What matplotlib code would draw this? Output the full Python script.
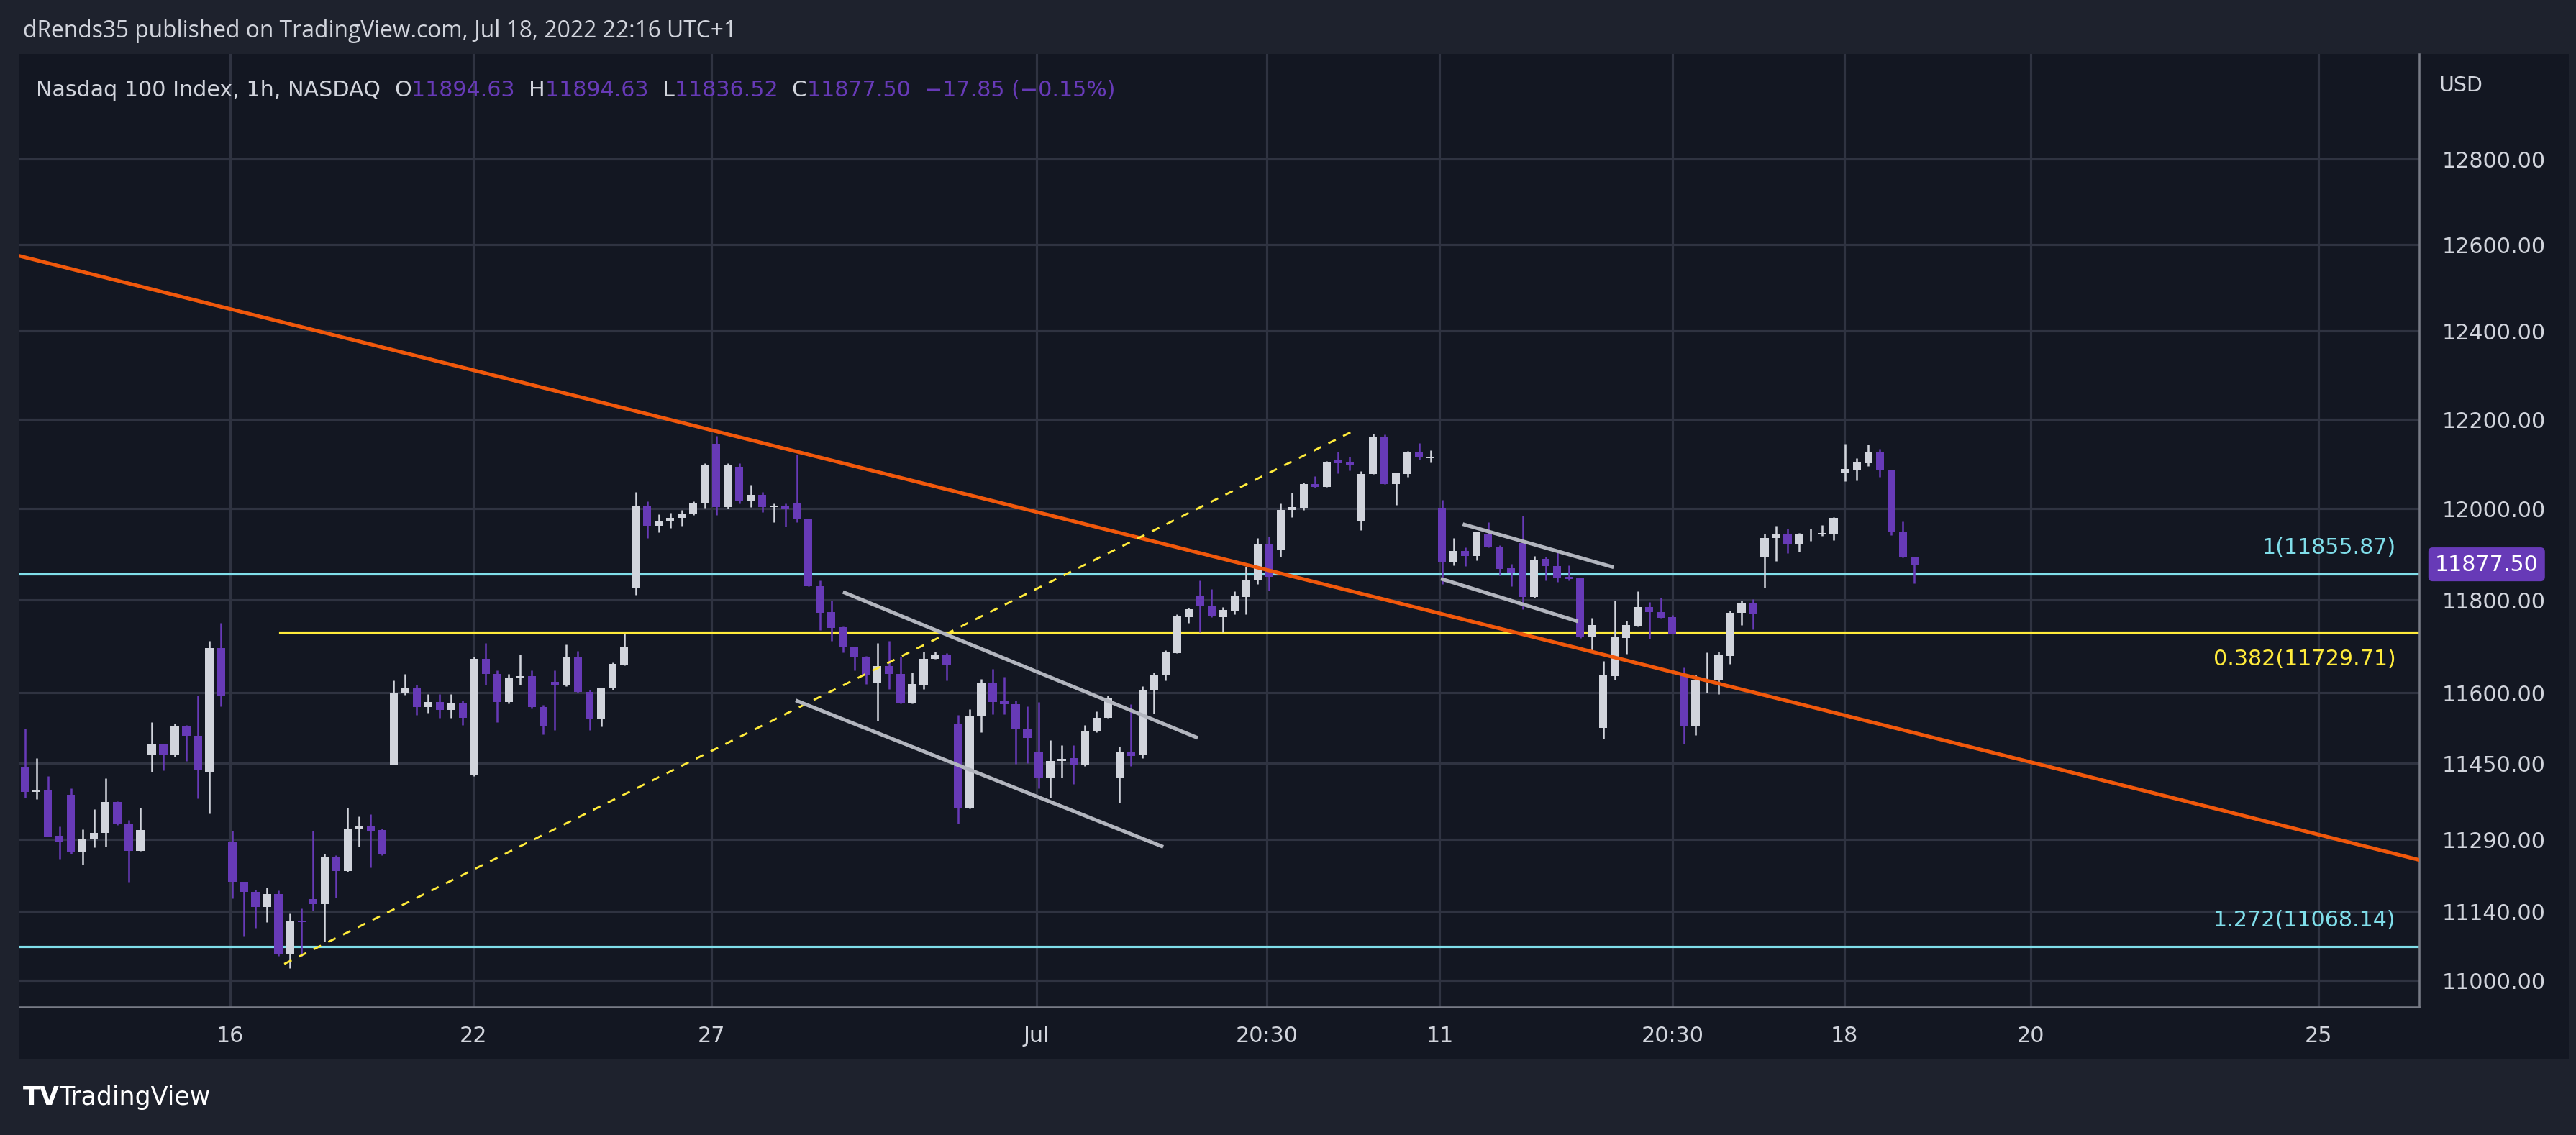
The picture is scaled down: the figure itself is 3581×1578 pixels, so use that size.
import matplotlib.pyplot as plt
import matplotlib.patches as mpatches
import numpy as np

# hourly candles (index = bar number)
opens = [11440, 11389, 11393, 11297, 11383, 11264, 11291, 11303, 11368, 11322, 11265,
         11466, 11489, 11466, 11527, 11507, 11432, 11695,
         11283, 11201, 11180, 11150, 11177, 11052, 11122, 11166, 11156, 11253, 11224, 11311, 11317, 11309,
         11446, 11599, 11611, 11568, 11580, 11562, 11578, 11426, 11672, 11640, 11580, 11631, 11635, 11568,
         11623, 11617, 11677, 11601, 11542, 11609, 11660,
         11825, 12005, 11962, 11974, 11980, 11987, 12011, 12144, 12003, 12094, 12016, 12031, 12004, 12007,
         12013, 11976, 11829, 11774, 11740, 11697, 11677, 11619, 11656, 11640, 11576, 11617, 11672, 11682,
         11532, 11356, 11549, 11621, 11582, 11575, 11521, 11472, 11419, 11454, 11460, 11446, 11517, 11546,
         11417, 11473, 11466, 11605, 11638, 11684, 11762, 11807, 11786, 11763, 11777, 11806, 11842, 11922,
         11909, 11998, 12002, 12055, 12049, 12107, 12104, 11972, 12078, 12161, 12054, 12078, 12126, 12113,
         12002, 11882, 11907, 11896, 11945, 11916, 11869, 11924, 11806, 11889, 11873, 11850, 11847, 11721,
         11524, 11635, 11717, 11744, 11784, 11774, 11762, 11637, 11528, 11625, 11628, 11678, 11771, 11792,
         11892, 11935, 11944, 11922, 11943, 11944, 11945, 12080, 12086, 12101, 12126, 12087, 11949, 11894.63]
highs = [11523, 11460, 11422, 11317, 11397, 11311, 11352, 11417, 11370, 11330, 11355,
         11537, 11491, 11534, 11530, 11593, 11711, 11750,
         11307, 11201, 11185, 11189, 11184, 11136, 11146, 11307, 11260, 11257, 11355, 11338, 11342, 11312,
         11625, 11639, 11617, 11597, 11597, 11597, 11582, 11677, 11707, 11648, 11640, 11681, 11648, 11574,
         11648, 11703, 11689, 11605, 11611, 11664, 11727,
         12037, 12017, 11987, 11991, 11998, 12017, 12102, 12162, 12102, 12102, 12053, 12037, 12012, 12012,
         12121, 11978, 11842, 11799, 11742, 11699, 11678, 11706, 11711, 11676, 11643, 11687, 11687, 11684,
         11552, 11564, 11629, 11651, 11634, 11582, 11570, 11579, 11499, 11487, 11487, 11530, 11560, 11593,
         11485, 11575, 11613, 11643, 11690, 11769, 11782, 11842, 11824, 11784, 11819, 11872, 11935, 11938,
         12011, 12035, 12058, 12072, 12106, 12127, 12115, 12084, 12167, 12166, 12080, 12129, 12146, 12130,
         12019, 11935, 11914, 11949, 11970, 11920, 11878, 11985, 11896, 11895, 11905, 11875, 11849, 11761,
         11668, 11798, 11754, 11819, 11795, 11804, 11767, 11653, 11638, 11686, 11687, 11776, 11799, 11801,
         11945, 11962, 11956, 11946, 11956, 11964, 11982, 12145, 12113, 12143, 12133, 12087, 11972, 11894.63]
lows = [11377, 11374, 11295, 11249, 11260, 11238, 11273, 11275, 11320, 11201, 11265,
        11431, 11435, 11464, 11454, 11376, 11344, 11571,
        11168, 11089, 11107, 11118, 11050, 11024, 11048, 11142, 11079, 11169, 11223, 11275, 11232, 11256,
        11446, 11595, 11552, 11556, 11546, 11545, 11530, 11423, 11617, 11537, 11576, 11617, 11566, 11511,
        11519, 11613, 11600, 11519, 11527, 11605, 11658,
        11811, 11935, 11948, 11958, 11962, 11986, 12002, 11986, 12000, 12012, 12003, 11992, 11970, 11961,
        11970, 11829, 11735, 11711, 11686, 11648, 11618, 11540, 11607, 11576, 11576, 11607, 11672, 11625,
        11323, 11354, 11515, 11554, 11554, 11448, 11450, 11397, 11377, 11419, 11406, 11444, 11515, 11546,
        11366, 11444, 11460, 11555, 11625, 11684, 11750, 11730, 11762, 11730, 11769, 11769, 11835, 11820,
        11895, 11982, 11997, 12046, 12048, 12079, 12086, 11952, 12077, 12054, 12009, 12070, 12110, 12103,
        11835, 11876, 11873, 11886, 11915, 11854, 11830, 11780, 11804, 11842, 11839, 11843, 11717, 11686,
        11501, 11628, 11683, 11742, 11715, 11760, 11727, 11490, 11509, 11600, 11597, 11662, 11745, 11736,
        11827, 11885, 11902, 11905, 11929, 11940, 11930, 12061, 12063, 12095, 12070, 11942, 11892, 11836.52]
closes = [11389, 11393, 11295, 11285, 11264, 11291, 11303, 11368, 11321, 11265, 11309,
          11489, 11466, 11527, 11507, 11435, 11695, 11593,
          11201, 11180, 11150, 11177, 11052, 11122, 11118, 11156, 11253, 11224, 11312, 11317, 11308, 11260,
          11599, 11611, 11568, 11580, 11562, 11578, 11546, 11672, 11640, 11580, 11631, 11635, 11568, 11527,
          11617, 11677, 11601, 11542, 11609, 11662, 11697,
          12005, 11962, 11974, 11980, 11987, 12013, 12096, 12003, 12096, 12016, 12031, 12003, 12005, 12001,
          11976, 11829, 11772, 11739, 11697, 11677, 11638, 11656, 11639, 11576, 11618, 11672, 11682, 11658,
          11356, 11549, 11621, 11580, 11575, 11521, 11503, 11419, 11454, 11458, 11446, 11517, 11546, 11587,
          11472, 11465, 11604, 11638, 11686, 11764, 11779, 11786, 11764, 11778, 11807, 11842, 11922, 11850,
          11998, 12004, 12055, 12049, 12104, 12101, 12098, 12078, 12161, 12054, 12080, 12126, 12114, 12115,
          11882, 11907, 11896, 11948, 11915, 11867, 11858, 11806, 11887, 11873, 11849, 11846, 11721, 11745,
          11636, 11718, 11745, 11784, 11774, 11761, 11727, 11528, 11625, 11628, 11681, 11772, 11792, 11768,
          11936, 11944, 11922, 11944, 11945, 11946, 11979, 12089, 12103, 12126, 12086, 11949, 11892, 11877.50]

yticks = [11000, 11140, 11290, 11450, 11600, 11800, 12000, 12200, 12400, 12600, 12800]
xtick_pos = [17.8, 38.9, 59.6, 87.8, 107.8, 122.8, 143.0, 157.9, 174.1, 199.1]
xtick_labels = ["16", "22", "27", "Jul", "20:30", "11", "20:30", "18", "20", "25"]

fib_levels = [11855.87, 11729.71, 11068.14]
fib_labels = ["1(11855.87)", "0.382(11729.71)", "1.272(11068.14)"]

trend_x, trend_y = [-0.46, 207.8], [12573, 11247]
dash_x, dash_y = [22.5, 115.1], [11033, 12171]
chan1_x, chan1_y = [[71.0, 101.8], [66.9, 98.8]], [[11817, 11503], [11583, 11274]]
chan2_x, chan2_y = [[124.8, 137.9], [122.9, 134.8]], [[11966, 11871], [11846, 11753]]

BG = "#131722"
FRAME = "#1e222d"
GRID = "#2f3341"
UP = "#d1d4dc"
DOWN = "#673ab7"
TXT = "#d1d4dc"

W, H = 1568, 691
fig = plt.figure(figsize=(W / 100, H / 100), dpi=228.44, facecolor=FRAME)
# inner panel
fig.patches.append(mpatches.Rectangle((12 / W, 1 - 645 / H), (1563 - 12) / W, (645 - 33) / H,
                                      transform=fig.transFigure, facecolor=BG, edgecolor="none", zorder=-10))
ax = fig.add_axes([12 / W, 1 - 613 / H, (1472 - 12) / W, (613 - 33) / H])
ax.set_facecolor(BG)
ax.set_yscale("log")
ax.set_ylim(10946, 13051)
ax.set_xlim(-0.46, 207.8)

ax.set_yticks(yticks)
ax.set_yticklabels([f"{v:.2f}" for v in yticks])
ax.yaxis.set_minor_locator(plt.NullLocator())
ax.yaxis.tick_right()
ax.set_xticks(xtick_pos)
ax.set_xticklabels(xtick_labels)
ax.tick_params(axis="both", length=0, colors=TXT, labelsize=9.5)
ax.tick_params(axis="y", pad=10)
ax.tick_params(axis="x", pad=8)
ax.grid(True, color=GRID, linewidth=1.0)
ax.set_axisbelow(True)
for s in ["top", "left"]:
    ax.spines[s].set_visible(False)
ax.spines["right"].set_color("#787b86")
ax.spines["bottom"].set_color("#787b86")

x = np.arange(len(closes))
o = np.array(opens); c = np.array(closes); hi = np.array(highs); lo = np.array(lows)
cols = np.where(c >= o, UP, DOWN)
ax.vlines(x, lo, hi, colors=cols, linewidth=0.8, zorder=3)
bot = np.minimum(o, c)
hgt = np.maximum(np.abs(c - o), 1.5)
ax.bar(x, hgt, bottom=bot, width=0.7, color=cols, zorder=4)

# drawings
ax.plot(trend_x, trend_y, color="#f0580c", linewidth=1.6, zorder=5)
ax.plot(dash_x, dash_y, color="#ffeb3b", linewidth=0.9, linestyle=(0, (4, 4)), zorder=5)
for xs, ys in zip(chan1_x + chan2_x, chan1_y + chan2_y):
    ax.plot(xs, ys, color="#b2b5be", linewidth=1.6, zorder=5, solid_capstyle="butt")
ax.axhline(fib_levels[0], color="#80deea", linewidth=1.0, zorder=2)
ax.axhline(fib_levels[2], color="#80deea", linewidth=1.0, zorder=2)
ax.plot([22.1, 207.8], [fib_levels[1]] * 2, color="#ffeb3b", linewidth=1.0, zorder=2)
ax.text(205.8, fib_levels[0] * 1.003, fib_labels[0], color="#80deea", ha="right", va="bottom", fontsize=9.5)
ax.text(205.8, fib_levels[1] * 0.997, fib_labels[1], color="#ffeb3b", ha="right", va="top", fontsize=9.5)
ax.text(205.8, fib_levels[2] * 1.003, fib_labels[2], color="#80deea", ha="right", va="bottom", fontsize=9.5)

# last price tag
ax.annotate(f"{closes[-1]:.2f}", xy=(1.0, closes[-1]), xycoords=("axes fraction", "data"),
            xytext=(7, 0), textcoords="offset points", color="white", fontsize=9.5, va="center", ha="left",
            bbox=dict(boxstyle="round,pad=0.3,rounding_size=0.2", fc=DOWN, ec="none"), annotation_clip=False)

fig.text(14 / W, 1 - 19 / H, "dRends35 published on TradingView.com, Jul 18, 2022 22:16 UTC+1",
         color=TXT, fontsize=10, va="center", family="Open Sans")
fig.text(1484 / W, 1 - 52 / H, "USD", color=TXT, fontsize=9, va="center")
legend_parts = [("Nasdaq 100 Index, 1h, NASDAQ  ", TXT), ("O", TXT), (f"{opens[-1]:.2f}  ", DOWN),
                ("H", TXT), (f"{highs[-1]:.2f}  ", DOWN), ("L", TXT), (f"{lows[-1]:.2f}  ", DOWN),
                ("C", TXT), (f"{closes[-1]:.2f}  ", DOWN), ("−17.85 (−0.15%)", DOWN)]
renderer = fig.canvas.get_renderer()
xpos = 22 / W
for s, col in legend_parts:
    t = fig.text(xpos, 1 - 55 / H, s, color=col, fontsize=9.5, va="center")
    bb = t.get_window_extent(renderer=renderer)
    xpos += bb.width / fig.bbox.width
fig.text(14 / W, 1 - 668 / H, "TV", color="white", fontsize=11, va="center", fontweight="bold")
fig.text(36 / W, 1 - 668 / H, "TradingView", color="white", fontsize=11, va="center")

fig.savefig("out.png", dpi=228.44, facecolor=FRAME)
